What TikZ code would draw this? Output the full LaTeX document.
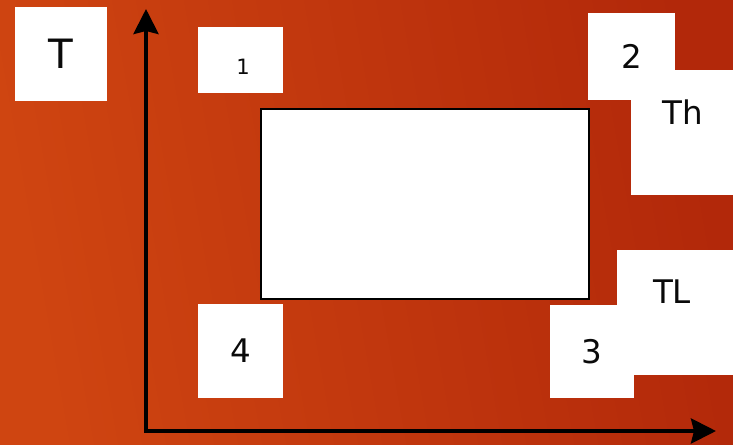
\documentclass[tikz,border=0pt]{standalone}
\usepackage{fontspec}
\setmainfont{DejaVu Sans}
\usetikzlibrary{arrows.meta, positioning, calc}
\definecolor{cleft}{HTML}{CF4511}
\definecolor{cright}{HTML}{B2280A}
\definecolor{cink}{HTML}{0A0A0A}
\tikzset{
  every picture/.style={line width=1.1pt},
  panel/.style={fill=white, draw=none, inner sep=0pt, text=cink, font=\fontsize{18.5}{20}\selectfont},
  small/.style={panel, font=\fontsize{12}{14}\selectfont},
  tag/.style={text=cink, inner sep=0pt, font=\fontsize{18.5}{20}\selectfont},
  cycle/.style={fill=white, draw=black, line width=1.6pt},
  axis/.style={draw=black, line width=2.2pt, {Stealth[length=5mm, width=5mm, inset=0.6mm]}-{Stealth[length=5mm, width=5mm, inset=0.6mm]}},
}

\begin{document}
\begin{tikzpicture}
  \useasboundingbox (0,0) rectangle (14.66,8.88);
  \clip (0,0) rectangle (14.66,8.88);
  \shade[left color=cleft, right color=cright, shading angle=100] (0,0) rectangle (14.66,8.88);
  % label boxes
  \node[panel, minimum width=1.84cm, minimum height=1.88cm, font=\fontsize{23}{26}\selectfont] (tbox) at (1.22,7.80) {T};
  \node[panel, minimum width=1.70cm, minimum height=1.32cm] (one) at (4.81,7.68) {};
  \node[small, fill=none] (onetext) at (4.86,7.54) {1};
  \node[panel, minimum width=1.74cm, minimum height=1.74cm] (two) at (12.63,7.75) {2};
  \node[panel, minimum width=2.08cm, minimum height=2.50cm] (hot) at (13.66,6.23) {};
  \node[tag] (hottext) at ($(hot.north)+(0,-0.86)$) {Th};
  \node[panel, minimum width=2.36cm, minimum height=2.50cm] (cold) at (13.52,2.63) {};
  \node[tag] (coldtext) at ($(cold.north)+(-0.08,-0.86)$) {TL};
  \node[panel, minimum width=1.68cm, minimum height=1.86cm] (three) at (11.84,1.85) {3};
  \node[panel, minimum width=1.70cm, minimum height=1.88cm] (four) at (4.81,1.86) {4};
  % cycle
  \node[cycle, minimum width=6.56cm, minimum height=3.80cm, inner sep=0pt] (loop) at (8.50,4.80) {};
  % axes
  \coordinate (origin) at (2.92,0.26);
  \coordinate (ytip) at (2.92,8.70);
  \coordinate (xtip) at (14.32,0.26);
  \draw[axis] (ytip) -- (origin) -- (xtip);
\end{tikzpicture}
\end{document}
